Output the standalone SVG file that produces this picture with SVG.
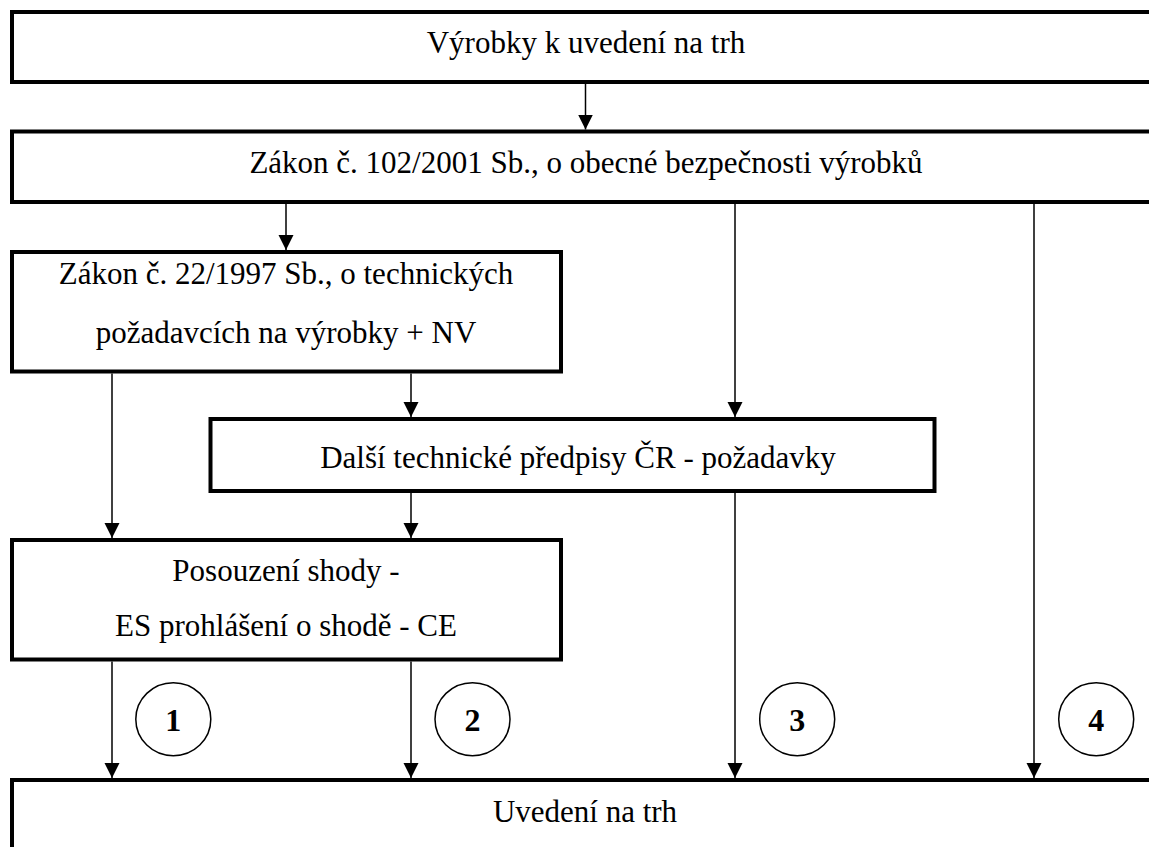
<svg xmlns="http://www.w3.org/2000/svg" width="1149" height="847" viewBox="0 0 1149 847">
<style>
.box{fill:#fff;stroke:#000;stroke-width:4}
.t{font-family:'Liberation Serif','Times New Roman','DejaVu Serif',serif;font-size:31px;fill:#000;text-anchor:middle}
.n{font-family:'Liberation Serif','Times New Roman','DejaVu Serif',serif;font-size:32px;font-weight:bold;fill:#000;text-anchor:middle}
.c{fill:#fff;stroke:#000;stroke-width:1.5}
.ln{stroke:#000;stroke-width:1.5;fill:none}
</style>
<defs>
<marker id="ah" markerUnits="userSpaceOnUse" markerWidth="16" markerHeight="16" viewBox="0 0 16 16" refX="15" refY="8" orient="auto">
<path d="M0,0.5 L15,8 L0,15.5 Z" fill="#000"/>
</marker>
</defs>
<rect width="1149" height="847" fill="#fff"/>
<g id="n1"><rect class="box" x="12" y="12" width="1160" height="70"/><text class="t" x="586" y="53">Výrobky k uvedení na trh</text></g>
<g id="n2"><rect class="box" x="12" y="131.5" width="1160" height="70.5"/><text class="t" x="586" y="173">Zákon č. 102/2001 Sb., o obecné bezpečnosti výrobků</text></g>
<g id="n3"><rect class="box" x="12" y="252" width="549" height="119.5"/><text class="t" x="286" y="284">Zákon č. 22/1997 Sb., o technických</text><text class="t" x="286" y="343">požadavcích na výrobky + NV</text></g>
<g id="n4"><rect class="box" x="210.5" y="419" width="724" height="72"/><text class="t" x="578" y="468">Další technické předpisy ČR - požadavky</text></g>
<g id="n5"><rect class="box" x="12" y="540" width="549" height="119.5"/><text class="t" x="286" y="581">Posouzení shody -</text><text class="t" x="286" y="636">ES prohlášení o shodě - CE</text></g>
<g id="n6"><rect class="box" x="12" y="780" width="1160" height="100"/><text class="t" x="585" y="822">Uvedení na trh</text></g>
<g id="connectors">
<line class="ln" x1="585.5" y1="84" x2="585.5" y2="129.5" marker-end="url(#ah)"/>
<line class="ln" x1="286" y1="204" x2="286" y2="250" marker-end="url(#ah)"/>
<line class="ln" x1="411" y1="373.5" x2="411" y2="417" marker-end="url(#ah)"/>
<line class="ln" x1="735" y1="204" x2="735" y2="417" marker-end="url(#ah)"/>
<line class="ln" x1="112" y1="373.5" x2="112" y2="538" marker-end="url(#ah)"/>
<line class="ln" x1="411" y1="493" x2="411" y2="538" marker-end="url(#ah)"/>
<line class="ln" x1="112" y1="661.5" x2="112" y2="778" marker-end="url(#ah)"/>
<line class="ln" x1="411" y1="661.5" x2="411" y2="778" marker-end="url(#ah)"/>
<line class="ln" x1="735" y1="493" x2="735" y2="778" marker-end="url(#ah)"/>
<line class="ln" x1="1034" y1="204" x2="1034" y2="778" marker-end="url(#ah)"/>
</g>
<g id="labels">
<ellipse class="c" cx="173.3" cy="719.2" rx="37.5" ry="36.5"/><text class="n" x="173.3" y="731">1</text>
<ellipse class="c" cx="472.5" cy="719.2" rx="37.5" ry="36.5"/><text class="n" x="472.5" y="731">2</text>
<ellipse class="c" cx="797.2" cy="719.2" rx="37.5" ry="36.5"/><text class="n" x="797.2" y="731">3</text>
<ellipse class="c" cx="1096.2" cy="719.2" rx="37.5" ry="36.5"/><text class="n" x="1096.2" y="731">4</text>
</g>
</svg>
